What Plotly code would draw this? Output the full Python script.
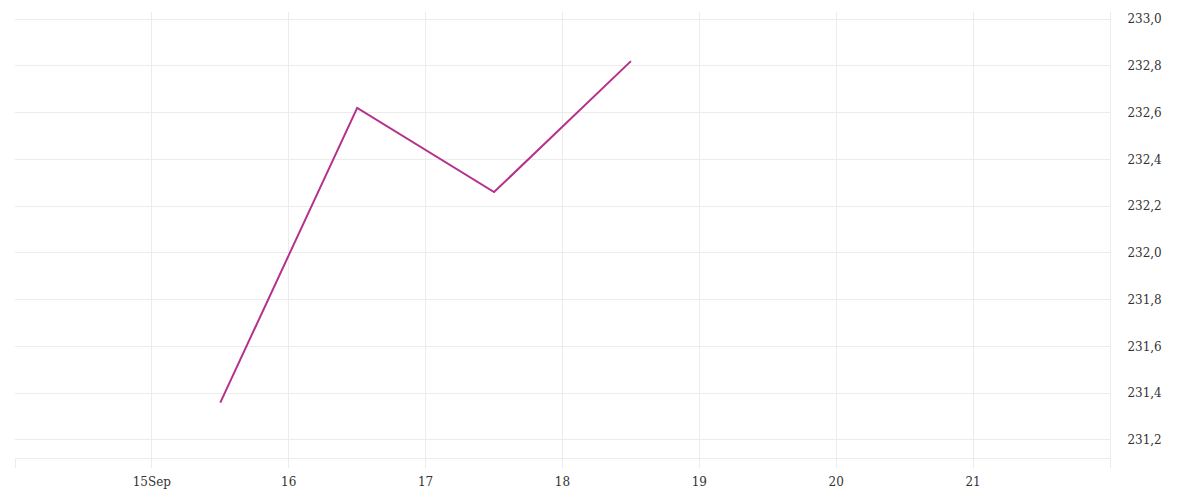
import plotly.graph_objects as go

# Data
dates = ["2023-09-15 12:00", "2023-09-16 12:00", "2023-09-17 12:00", "2023-09-18 12:00"]
prices = [231.36, 232.62, 232.26, 232.82]

x_tickvals = ["2023-09-14", "2023-09-15", "2023-09-16", "2023-09-17", "2023-09-18",
              "2023-09-19", "2023-09-20", "2023-09-21", "2023-09-22"]
x_ticktext = ["", "15Sep", "16", "17", "18", "19", "20", "21", ""]
y_tickvals = [231.2, 231.4, 231.6, 231.8, 232.0, 232.2, 232.4, 232.6, 232.8, 233.0]

grid = "#ececec"

fig = go.Figure()

fig.add_trace(
    go.Scatter(
        x=dates,
        y=prices,
        mode="lines",
        line=dict(color="#b5318c", width=2),
        showlegend=False,
    )
)

fig.update_xaxes(
    range=["2023-09-14", "2023-09-22"],
    tickvals=x_tickvals,
    ticktext=x_ticktext,
    showgrid=True,
    gridcolor=grid,
    showline=True,
    linecolor=grid,
    ticks="outside",
    ticklen=9,
    tickcolor=grid,
    ticklabelstandoff=4,
    zeroline=False,
)

fig.update_yaxes(
    side="right",
    range=[231.123, 233.03],
    tickvals=y_tickvals,
    tickformat=".1f",
    showgrid=True,
    gridcolor=grid,
    showline=True,
    linecolor=grid,
    ticks="",
    ticklabelstandoff=14,
    zeroline=False,
)

# page body adds ~8px offset, so margins are trimmed to match
fig.update_layout(
    width=1200,
    height=500,
    margin=dict(l=7, r=98, t=4, b=50),
    plot_bgcolor="white",
    paper_bgcolor="white",
    separators=",.",
    font=dict(family="DejaVu Serif", size=12, color="#333"),
)

fig.write_html("out.html")
